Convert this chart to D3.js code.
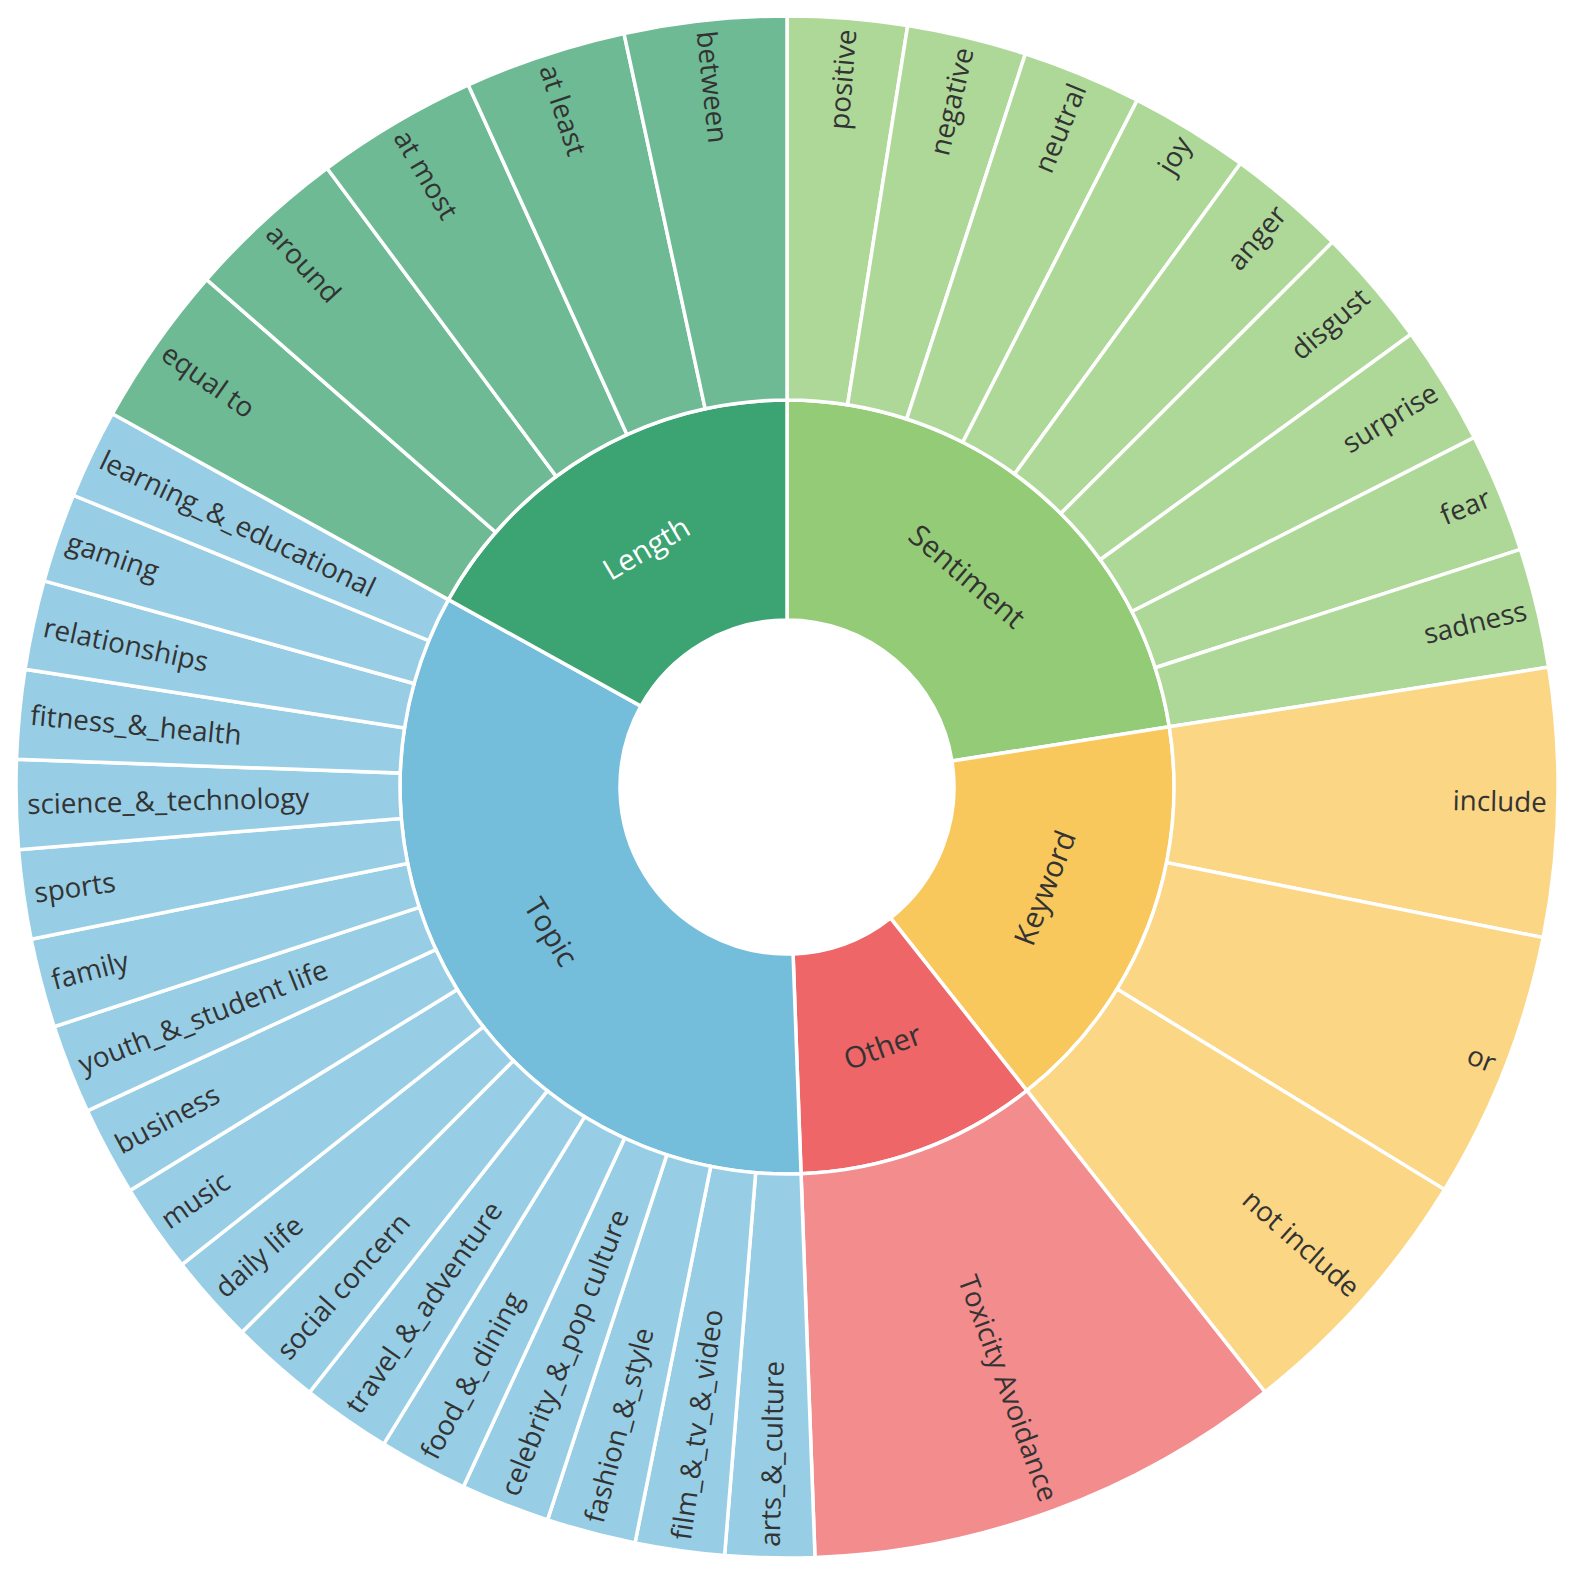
<!DOCTYPE html>
<html>
<head>
<meta charset="utf-8">
<script src="https://cdn.jsdelivr.net/npm/d3@7"></script>
<style>
html, body { margin: 0; padding: 0; background: #ffffff; }
svg { display: block; }
</style>
</head>
<body>
<svg id="chart" width="1577" height="1584"></svg>
<script>
// ---- data (clockwise from 12 o'clock) ----
const categories = ["Sentiment", "Keyword", "Other", "Topic", "Length"];
const categoryColors = ["#93cb76", "#f9c85c", "#ee6667", "#74bedc", "#3ca372"];
const categoryTextColors = ["#333333", "#333333", "#333333", "#333333", "#ffffff"];

const sentimentLabels = ["positive", "negative", "neutral", "joy", "anger", "disgust", "surprise", "fear", "sadness"];
const sentimentValues = [9, 9, 9, 9, 9, 9, 9, 9, 9];

const keywordLabels = ["include", "or", "not include"];
const keywordValues = [20.2, 20.2, 20.2];

const otherLabels = ["Toxicity Avoidance"];
const otherValues = [36.2];

const topicLabels = ["arts_&_culture", "film_&_tv_&_video", "fashion_&_style", "celebrity_&_pop culture",
  "food_&_dining", "travel_&_adventure", "social concern", "daily life", "music", "business",
  "youth_&_student life", "family", "sports", "science_&_technology", "fitness_&_health",
  "relationships", "gaming", "learning_&_educational"];
const topicValues = [6.72, 6.72, 6.72, 6.72, 6.72, 6.72, 6.72, 6.72, 6.72, 6.72, 6.72, 6.72, 6.72, 6.72, 6.72, 6.72, 6.72, 6.72];

const lengthLabels = ["equal to", "around", "at most", "at least", "between"];
const lengthValues = [12.2, 12.2, 12.2, 12.2, 12.2];

const childLabels = [sentimentLabels, keywordLabels, otherLabels, topicLabels, lengthLabels];
const childValues = [sentimentValues, keywordValues, otherValues, topicValues, lengthValues];

// ---- layout ----
const W = 1577, H = 1584;
const cx = 787, cy = 787;
const r0 = 167, r1 = 387, r2 = 771;
const labelR = 760;

const tree = {
  name: "root",
  children: categories.map((c, i) => ({
    name: c, idx: i,
    children: childLabels[i].map((l, j) => ({ name: l, value: childValues[i][j], idx: i }))
  }))
};

const root = d3.hierarchy(tree).sum(d => d.value || 0);
d3.partition().size([2 * Math.PI, 1])(root);

const radiusInner = d => d.depth === 1 ? r0 : r1;
const radiusOuter = d => d.depth === 1 ? r1 : r2;

const arc = d3.arc()
  .startAngle(d => d.x0)
  .endAngle(d => d.x1)
  .innerRadius(radiusInner)
  .outerRadius(radiusOuter);

const fillFor = d => {
  const base = categoryColors[d.data.idx];
  if (d.depth === 1) return base;
  return d3.interpolateRgb("#ffffff", base)(0.75);
};

const svg = d3.select("#chart");
const g = svg.append("g").attr("transform", `translate(${cx},${cy})`);

const nodes = root.descendants().filter(d => d.depth > 0);

g.selectAll("path.seg")
  .data(nodes)
  .join("path")
  .attr("class", "seg")
  .attr("d", arc)
  .attr("fill", fillFor)
  .attr("stroke", "#ffffff")
  .attr("stroke-width", 3.5);

const deg = rad => rad * 180 / Math.PI;

// inner labels (tangential)
g.selectAll("text.inner")
  .data(root.children)
  .join("text")
  .attr("class", "inner")
  .attr("transform", d => {
    const a = (d.x0 + d.x1) / 2;
    const r = (r0 + r1) / 2;
    const x = Math.sin(a) * r, y = -Math.cos(a) * r;
    let rot = deg(a);
    if (rot > 90 && rot < 270) rot -= 180;
    return `translate(${x},${y}) rotate(${rot})`;
  })
  .attr("text-anchor", "middle")
  .attr("dy", "0.35em")
  .attr("font-family", "'Open Sans', sans-serif")
  .attr("font-size", 29.5)
  .attr("fill", d => categoryTextColors[d.data.idx])
  .text(d => d.data.name);

// outer labels (radial, anchored near outer edge)
g.selectAll("text.outer")
  .data(root.leaves())
  .join("text")
  .attr("class", "outer")
  .attr("transform", d => {
    const a = (d.x0 + d.x1) / 2;
    const x = Math.sin(a) * labelR, y = -Math.cos(a) * labelR;
    const ad = deg(a);
    const rot = ad < 180 ? ad - 90 : ad - 270;
    return `translate(${x},${y}) rotate(${rot})`;
  })
  .attr("text-anchor", d => deg((d.x0 + d.x1) / 2) < 180 ? "end" : "start")
  .attr("dy", "0.35em")
  .attr("font-family", "'Open Sans', sans-serif")
  .attr("font-size", 27.8)
  .attr("fill", "#333333")
  .text(d => d.data.name);
</script>
</body>
</html>
